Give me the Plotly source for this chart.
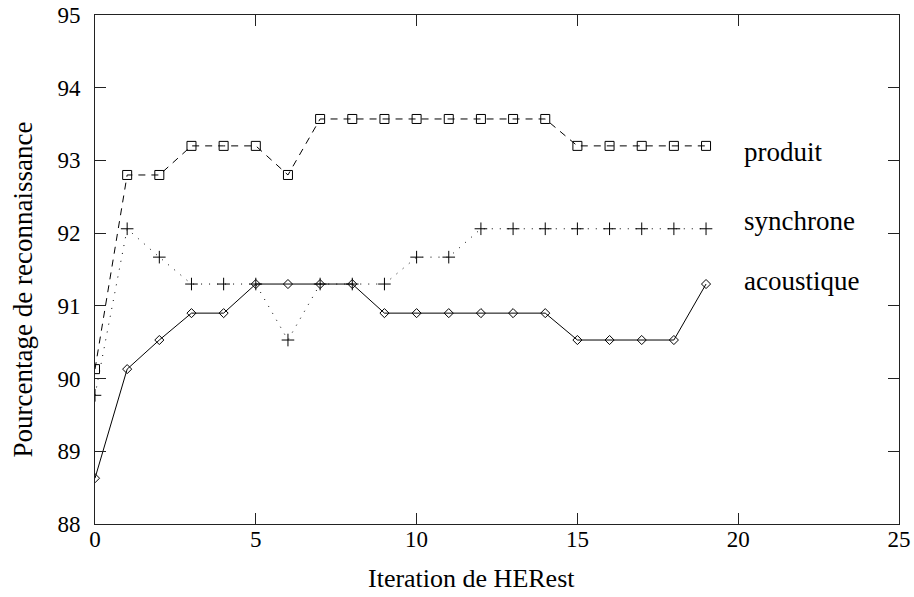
import plotly.graph_objects as go

iterations = list(range(20))
produit = [90.13, 92.80, 92.80, 93.20, 93.20, 93.20, 92.80, 93.57, 93.57, 93.57,
           93.57, 93.57, 93.57, 93.57, 93.57, 93.20, 93.20, 93.20, 93.20, 93.20]
synchrone = [89.77, 92.06, 91.67, 91.30, 91.30, 91.30, 90.53, 91.30, 91.30, 91.30,
             91.67, 91.67, 92.06, 92.06, 92.06, 92.06, 92.06, 92.06, 92.06, 92.06]
acoustique = [88.63, 90.13, 90.53, 90.90, 90.90, 91.30, 91.30, 91.30, 91.30, 90.90,
              90.90, 90.90, 90.90, 90.90, 90.90, 90.53, 90.53, 90.53, 90.53, 91.30]

labels = ["produit", "synchrone", "acoustique"]
label_y = [93.12, 92.17, 91.34]

x_title = "Iteration de HERest"
y_title = "Pourcentage de reconnaissance"

FONT = "Liberation Serif"
TXT = 27
TITLE = 26
TICK = 23

fig = go.Figure()
fig.add_trace(go.Scatter(x=iterations, y=produit, mode="lines+markers", name="produit",
                         line=dict(color="black", width=1, dash="7px,6px"),
                         marker=dict(symbol="square-open", size=9, color="black",
                                     line=dict(width=1, color="black"))))
fig.add_trace(go.Scatter(x=iterations, y=synchrone, mode="lines+markers", name="synchrone",
                         line=dict(color="black", width=1, dash="1px,7px"),
                         marker=dict(symbol="cross-thin-open", size=9, color="black",
                                     line=dict(width=1, color="black"))))
fig.add_trace(go.Scatter(x=iterations, y=acoustique, mode="lines+markers", name="acoustique",
                         line=dict(color="black", width=1),
                         marker=dict(symbol="diamond-open", size=7, color="black",
                                     line=dict(width=1, color="black"))))

for t, yv in zip(labels, label_y):
    fig.add_annotation(x=20.12, y=yv, text=t, showarrow=False, xanchor="left",
                       yanchor="middle", font=dict(family=FONT, size=TXT, color="black"))

fig.add_annotation(xref="paper", yref="paper", x=0.4677, y=-0.108, text=x_title,
                   showarrow=False, xanchor="center", yanchor="middle",
                   font=dict(family=FONT, size=TITLE, color="black"))
fig.add_annotation(xref="paper", yref="paper", x=-0.0896, y=0.4607, text=y_title,
                   showarrow=False, xanchor="center", yanchor="middle", textangle=-90,
                   font=dict(family=FONT, size=TXT, color="black"))

axis_common = dict(showgrid=False, zeroline=False, showline=True, linecolor="#222222",
                   linewidth=1, mirror="allticks", ticks="inside", ticklen=11,
                   tickcolor="#222222", tickwidth=1, automargin=False,
                   ticklabeloverflow="allow",
                   tickfont=dict(family=FONT, size=TICK, color="black"))

fig.update_layout(
    width=914, height=597,
    margin=dict(l=95, r=15, t=15, b=73),
    paper_bgcolor="white", plot_bgcolor="white",
    showlegend=False,
    xaxis=dict(range=[0, 25], tickvals=[0, 5, 10, 15, 20, 25], ticklabelstandoff=-6,
               **axis_common),
    yaxis=dict(range=[88, 95], tickvals=[88, 89, 90, 91, 92, 93, 94, 95], ticklabelstandoff=9,
               **axis_common),
)

# remove the default 8px page margin so the figure fills the window exactly
fig.write_html("out.html",
               config={"displayModeBar": False},
               post_script="document.body.style.margin='0';document.body.style.overflow='hidden';")
